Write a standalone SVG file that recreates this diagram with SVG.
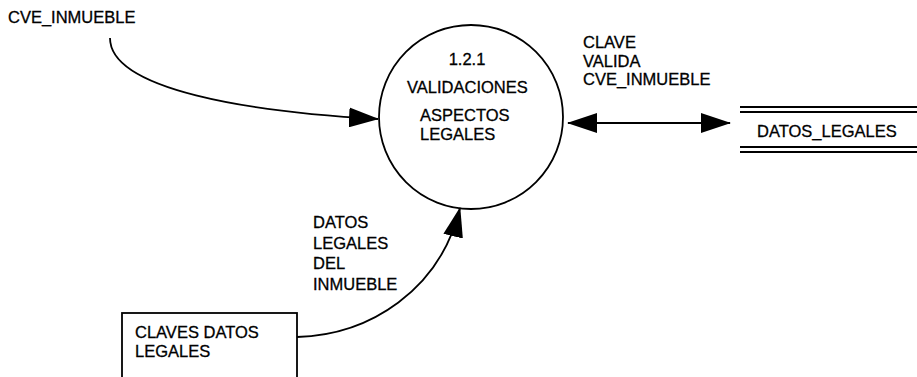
<svg xmlns="http://www.w3.org/2000/svg" width="917" height="377" viewBox="0 0 917 377">
<style>
text{font-family:"Liberation Sans",Arial,sans-serif;font-size:16.5px;fill:#000;stroke:#000;stroke-width:0.3}
.ln{fill:none;stroke:#000;stroke-width:1.8}
</style>
<defs>
<marker id="ah" viewBox="0 0 30 20" markerWidth="30" markerHeight="20" refX="29" refY="10" orient="auto-start-reverse" markerUnits="userSpaceOnUse">
<path d="M0,0 L30,10 L0,20 z" fill="#000"/>
</marker>
</defs>
<rect width="917" height="377" fill="#fff"/>
<g id="ext-cve">
<text x="8" y="23">CVE_INMUEBLE</text>
</g>
<g id="proc-121">
<circle cx="471" cy="117" r="92" class="ln"/>
<text x="467" y="65" text-anchor="middle">1.2.1</text>
<text x="407" y="93">VALIDACIONES</text>
<text x="420" y="121">ASPECTOS</text>
<text x="420" y="140">LEGALES</text>
</g>
<g id="store-datos">
<line x1="740" y1="107" x2="917" y2="107" class="ln"/>
<line x1="740" y1="112" x2="917" y2="112" class="ln"/>
<line x1="740" y1="147" x2="917" y2="147" class="ln"/>
<line x1="740" y1="152" x2="917" y2="152" class="ln"/>
<text x="757" y="137">DATOS_LEGALES</text>
</g>
<g id="ent-claves">
<rect x="122" y="313" width="175" height="80" class="ln"/>
<text x="135" y="338">CLAVES DATOS</text>
<text x="135" y="357">LEGALES</text>
</g>
<g id="connectors">
<path d="M110,38 C110,90 250,112 378,119" class="ln" marker-end="url(#ah)"/>
<line x1="568" y1="123" x2="730" y2="123" class="ln" marker-start="url(#ah)" marker-end="url(#ah)"/>
<path d="M297,337 C370,335 440,290 460,208" class="ln" marker-end="url(#ah)"/>
<text x="583" y="48">CLAVE</text>
<text x="583" y="67">VALIDA</text>
<text x="583" y="85">CVE_INMUEBLE</text>
<text x="313" y="228">DATOS</text>
<text x="313" y="249">LEGALES</text>
<text x="313" y="269">DEL</text>
<text x="313" y="290">INMUEBLE</text>
</g>
</svg>
